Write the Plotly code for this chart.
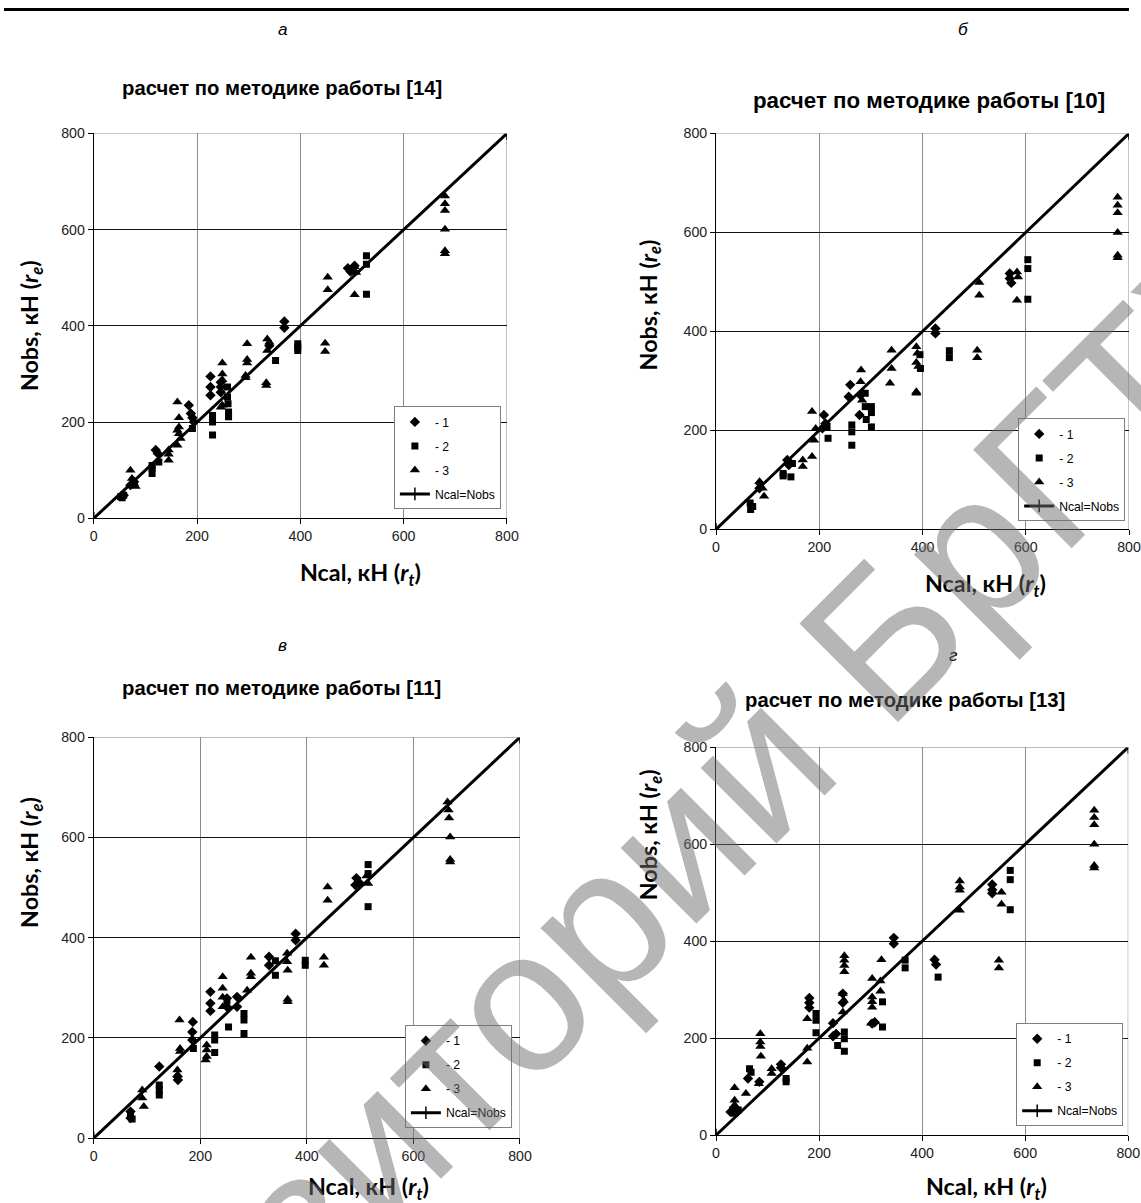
import plotly.graph_objects as go

W, H = 1141, 1203

# ---------------- data (Ncal, Nobs in кН) ----------------
# panel а  — [14]
A1_X = [492, 497, 505, 369, 369, 340, 226, 226, 226, 246, 246, 246, 184, 188, 191, 194, 120, 124, 78, 71, 58]
A1_Y = [520, 513, 525, 409, 396, 359, 295, 273, 256, 283, 273, 262, 235, 218, 209, 200, 142, 135, 76, 69, 48]
A2_X = [528, 528, 528, 395, 395, 395, 352, 230, 230, 230, 259, 259, 260, 261, 261, 191, 113, 113, 113, 126, 52, 58, 55]
A2_Y = [546, 528, 466, 363, 349, 356, 328, 214, 200, 173, 273, 252, 238, 221, 211, 187, 110, 104, 93, 117, 45, 48, 43]
A3_X = [680, 680, 680, 680, 680, 680, 505, 508, 505, 453, 453, 448, 448, 336, 340, 336, 334, 334, 297, 297, 297, 294, 294,
        249, 249, 249, 249, 246, 162, 165, 165, 162, 165, 162, 168, 145, 145, 145, 71, 74, 78, 81]
A3_Y = [670, 654, 640, 601, 556, 550, 523, 511, 465, 501, 475, 364, 347, 373, 366, 349, 282, 276, 363, 330, 323, 297, 292,
        323, 300, 288, 235, 231, 242, 209, 190, 183, 176, 152, 166, 142, 133, 121, 100, 83, 73, 66]

# panel б  — [10]
B1_X = [569, 569, 572, 425, 425, 260, 257, 278, 280, 209, 206, 212, 138, 141, 85, 84]
B1_Y = [517, 507, 498, 406, 396, 292, 268, 231, 271, 231, 204, 214, 140, 130, 93, 83]
B2_X = [604, 604, 604, 452, 452, 395, 396, 263, 263, 263, 289, 291, 301, 301, 301, 289, 215, 217, 148, 130, 130, 145, 66, 67, 71]
B2_Y = [545, 527, 465, 361, 347, 353, 325, 211, 197, 170, 275, 222, 248, 236, 207, 248, 207, 184, 133, 113, 108, 106, 53, 40, 46]
B3_X = [778, 778, 778, 778, 778, 778, 510, 510, 583, 585, 583, 506, 506, 388, 390, 388, 392, 388, 388, 340, 340, 337,
        281, 280, 283, 186, 190, 186, 193, 168, 168, 84, 90, 93]
B3_Y = [671, 655, 640, 600, 554, 549, 499, 473, 520, 510, 463, 362, 347, 369, 356, 337, 329, 278, 275, 362, 325, 295,
        322, 298, 261, 238, 180, 147, 204, 140, 127, 96, 83, 67]

# panel в  — [11]
C1_X = [493, 491, 498, 379, 379, 329, 329, 219, 219, 219, 250, 250, 269, 269, 186, 185, 185, 123, 158, 157, 69, 69]
C1_Y = [519, 505, 510, 408, 395, 362, 345, 292, 269, 254, 279, 262, 282, 262, 232, 212, 196, 143, 116, 123, 53, 40]
C2_X = [515, 515, 515, 397, 397, 341, 341, 250, 253, 282, 282, 282, 227, 227, 227, 187, 123, 123, 123, 69, 72]
C2_Y = [546, 528, 462, 355, 345, 354, 325, 274, 222, 249, 236, 209, 206, 196, 171, 179, 106, 96, 86, 46, 38]
C3_X = [664, 666, 667, 669, 669, 669, 512, 515, 439, 439, 432, 432, 363, 363, 364, 364, 364, 295, 295, 295, 288,
        242, 242, 242, 242, 161, 162, 162, 157, 158, 212, 212, 212, 210, 91, 91, 94]
C3_Y = [671, 655, 639, 601, 556, 551, 523, 508, 501, 475, 361, 345, 369, 352, 335, 277, 272, 361, 329, 322, 295,
        322, 299, 281, 262, 236, 179, 173, 136, 126, 186, 176, 163, 156, 96, 80, 63]

# panel г  — [13]
D1_X = [536, 536, 536, 345, 345, 424, 427, 181, 181, 181, 246, 246, 227, 227, 233, 308, 303, 126, 126, 62, 84, 28]
D1_Y = [517, 506, 499, 407, 395, 362, 352, 283, 273, 263, 292, 273, 231, 204, 209, 233, 230, 146, 139, 117, 110, 48]
D2_X = [571, 571, 571, 367, 367, 431, 323, 323, 194, 194, 194, 249, 249, 249, 236, 65, 68, 136, 136, 32, 36, 43]
D2_Y = [546, 527, 465, 361, 345, 326, 275, 223, 251, 237, 211, 213, 199, 173, 185, 137, 130, 117, 110, 52, 45, 52]
D3_X = [734, 734, 734, 734, 734, 734, 473, 473, 473, 473, 554, 554, 549, 549, 249, 249, 249, 249, 321, 246, 248, 246,
        303, 303, 303, 303, 308, 301, 319, 319, 177, 177, 177, 86, 86, 86, 87, 108, 108, 36, 36, 36, 58, 83]
D3_Y = [670, 655, 640, 600, 556, 551, 524, 512, 505, 464, 501, 476, 361, 345, 370, 361, 350, 337, 362, 292, 278, 254,
        323, 285, 275, 264, 234, 231, 318, 297, 240, 179, 151, 209, 192, 183, 163, 137, 127, 98, 72, 62, 86, 106]

LINE_X = [0, 800]
LINE_Y = [0, 800]
TICKS = [0, 200, 400, 600, 800]
SERIES_NAMES = ["- 1", "- 2", "- 3", "Ncal=Nobs"]
TITLES = ["расчет по методике работы [14]", "расчет по методике работы [10]",
          "расчет по методике работы [11]", "расчет по методике работы [13]"]
LETTERS = ["а", "б", "в", "г"]
XTITLE = "Ncal, кН (<i>r<sub>t</sub></i>)"
YTITLE = "Nobs, кН (<i>r<sub>e</sub></i>)"
WATERMARK = "Репозиторий БрГТУ"

NARROW = "Liberation Sans Narrow, Arial Narrow, Liberation Sans, Arial, sans-serif"
ARIAL = "Liberation Sans, Arial, sans-serif"
CAL = "Lato, Open Sans, sans-serif"

# the photographed page comes out slightly reduced and offset; compensate
SX, OX = 0.9855, 3.3
SY, OY = 0.987, 7.5

def px(x):
    return ((x - OX) / SX) / W

def py(y):
    return 1 - ((y - OY) / SY) / H

def fs(v):
    return round(v / SY, 1)

# pixel layout (reference pixels) of each panel: plot box (left, right, top, bottom)
BOXES = [(93, 506, 133, 518), (715, 1131, 133, 529), (93, 519, 737, 1138), (715, 1127, 747, 1135)]
DATA = [((A1_X, A1_Y), (A2_X, A2_Y), (A3_X, A3_Y)),
        ((B1_X, B1_Y), (B2_X, B2_Y), (B3_X, B3_Y)),
        ((C1_X, C1_Y), (C2_X, C2_Y), (C3_X, C3_Y)),
        ((D1_X, D1_Y), (D2_X, D2_Y), (D3_X, D3_Y))]
LEGEND_POS = [(393, 406), (1017, 418), (404, 1025), (1015, 1023)]
TITLE_POS = [(281, 88), (928, 100), (281, 688), (904, 700)]
TITLE_SIZES = [20, 22, 20, 20]
LETTER_POS = [(282, 29), (962, 29), (282, 645), (952, 655)]
XT_POS = [(360, 573), (984, 584), (368, 1187), (985, 1187)]
YT_POS = [(30, 325), (648, 305), (30, 862), (648, 835)]
TITLE_FONTS = [NARROW, ARIAL, NARROW, NARROW]
TICK_FONTS = [NARROW, ARIAL, NARROW, NARROW]

SYMBOLS = ["diamond", "square", "triangle-up"]
SIZES = [8, 7, 9]

fig = go.Figure()
layout = dict(
    width=W, height=H, margin=dict(l=0, r=0, t=0, b=0),
    paper_bgcolor="white", plot_bgcolor="white", showlegend=True,
)
annotations = []
shapes = []

for i in range(4):
    n = "" if i == 0 else str(i + 1)
    xa, ya = "x" + n, "y" + n
    leg = "legend" + n
    l, r, t, b = BOXES[i]
    for s in range(3):
        xs, ys = DATA[i][s]
        fig.add_trace(go.Scatter(
            x=xs, y=ys, mode="markers", name=SERIES_NAMES[s],
            marker=dict(symbol=SYMBOLS[s], size=SIZES[s], color="black", line=dict(width=0)),
            xaxis=xa, yaxis=ya, legend=leg, legendgroup=f"p{i}s{s}",
        ))
    fig.add_trace(go.Scatter(
        x=LINE_X, y=LINE_Y, mode="lines+markers", name=SERIES_NAMES[3],
        line=dict(color="black", width=3),
        marker=dict(symbol="line-ns-open", size=9, color="black", line=dict(width=1.5, color="black")),
        xaxis=xa, yaxis=ya, legend=leg, legendgroup=f"p{i}s3",
    ))
    axcommon = dict(range=[0, 800], tickvals=TICKS, ticks="outside", ticklen=5, tickcolor="black",
                    showline=True, linecolor="black", linewidth=1, zeroline=False,
                    tickfont=dict(family=TICK_FONTS[i], size=fs(14), color="#222"))
    layout["xaxis" + n] = dict(axcommon, domain=[px(l), min(1.0, px(r))], anchor=ya, showgrid=True,
                               gridcolor="#8c8c8c", gridwidth=1)
    layout["yaxis" + n] = dict(axcommon, domain=[max(0.0, py(b)), py(t)], anchor=xa, showgrid=True,
                               gridcolor="#111111", gridwidth=1)
    shapes.append(dict(type="line", xref=xa, yref=ya, x0=0, x1=800, y0=800, y1=800,
                       line=dict(color="#8c8c8c", width=1), layer="above"))
    shapes.append(dict(type="line", xref=xa, yref=ya, x0=800, x1=800, y0=0, y1=800,
                       line=dict(color="#8c8c8c", width=1), layer="below"))
    lx, ly = LEGEND_POS[i]
    layout[leg] = dict(x=px(lx), y=py(ly), xanchor="left", yanchor="top", bgcolor="white",
                       bordercolor="#7f7f7f", borderwidth=1, tracegroupgap=5, itemwidth=30,
                       font=dict(family=NARROW, size=fs(12), color="black"), traceorder="grouped")
    tx, ty = TITLE_POS[i]
    annotations.append(dict(text="<b>" + TITLES[i] + "</b>", x=px(tx), y=py(ty), xref="paper", yref="paper",
                            showarrow=False, xanchor="center", yanchor="middle",
                            font=dict(family=TITLE_FONTS[i], size=fs(TITLE_SIZES[i]), color="black")))
    lx2, ly2 = LETTER_POS[i]
    annotations.append(dict(text="<i>" + LETTERS[i] + "</i>", x=px(lx2), y=py(ly2), xref="paper", yref="paper",
                            showarrow=False, xanchor="center", yanchor="middle",
                            font=dict(family=ARIAL, size=fs(17), color="black")))
    xx, xy = XT_POS[i]
    annotations.append(dict(text="<b>" + XTITLE + "</b>", x=px(xx), y=py(xy), xref="paper", yref="paper",
                            showarrow=False, xanchor="center", yanchor="middle",
                            font=dict(family=CAL, size=fs(23), color="black")))
    yx, yy = YT_POS[i]
    annotations.append(dict(text="<b>" + YTITLE + "</b>", x=px(yx), y=py(yy), xref="paper", yref="paper",
                            showarrow=False, xanchor="center", yanchor="middle", textangle=-90,
                            font=dict(family=CAL, size=fs(23), color="black")))

# watermark
annotations.append(dict(text=WATERMARK, x=px(605), y=py(915), xref="paper", yref="paper",
                        showarrow=False, xanchor="center", yanchor="middle", textangle=-45,
                        font=dict(family=ARIAL, size=fs(200), color="rgba(110,110,110,0.5)")))

# header rule
shapes.append(dict(type="line", xref="paper", yref="paper", x0=0, x1=1, y0=py(9), y1=py(9),
                   line=dict(color="black", width=3)))

layout["annotations"] = annotations
layout["shapes"] = shapes
fig.update_layout(**layout)

RESET = ("document.documentElement.style.margin='0';document.body.style.margin='0';"
         "document.body.style.padding='0';document.documentElement.style.overflow='hidden';"
         "document.body.style.overflow='hidden';")
fig.write_html("out.html", config={"displayModeBar": False},
               post_script="});" + RESET + "(function(){")
